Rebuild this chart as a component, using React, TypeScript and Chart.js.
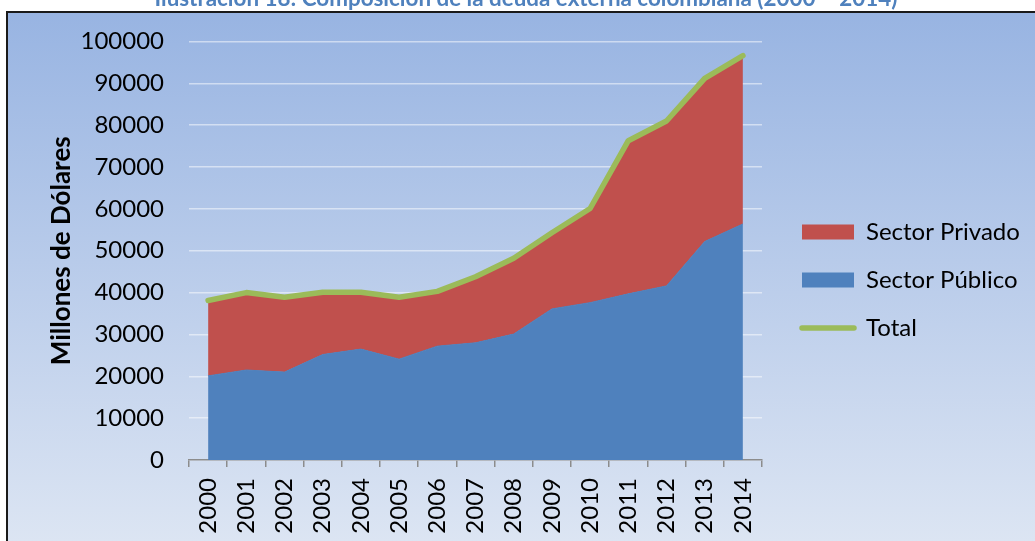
import React, { useEffect, useRef } from 'react';
import { Chart, registerables } from 'chart.js';

Chart.register(...registerables);

const chartTitle = 'Ilustración 18: Composición de la deuda externa colombiana (2000 – 2014)';
const yAxisTitle = 'Millones de Dólares';
const years = ['2000', '2001', '2002', '2003', '2004', '2005', '2006', '2007', '2008', '2009', '2010', '2011', '2012', '2013', '2014'];
const sectorPublico = [20100, 21500, 21000, 25200, 26500, 24100, 27200, 28000, 30100, 36100, 37600, 39700, 41600, 52200, 56400];
const sectorPrivado = [18000, 18500, 17900, 14900, 13600, 14800, 13100, 15800, 18100, 18200, 22500, 36600, 39400, 39000, 40200];
const total = [38100, 40000, 38900, 40100, 40100, 38900, 40300, 43800, 48200, 54300, 60100, 76300, 81000, 91200, 96600];
const yMin = 0;
const yMax = 100000;
const yStep = 10000;
const seriesLabels = ['Sector Público', 'Sector Privado', 'Total'];
const legendRank = [1, 0, 2];

const BLUE = '#4F81BD';
const RED = '#C0504D';
const GREEN = '#9BBB59';
const FONT = 'Lato';
const W = 1035;
const H = 541;
const PLOT_RIGHT = 762;
const LEGEND_GAP = 16;
const LEGEND_SIZE = 24;
const LEGEND_PAD = 24;
const LEGEND_BOX = 52;
const LEGEND_TITLE_H = 58.5;

const framePlugin = {
  id: 'frame',
  beforeDraw(chart: any) {
    const { ctx, width, height } = chart;
    ctx.save();
    ctx.fillStyle = '#ffffff';
    ctx.fillRect(0, 0, width, height);
    const g = ctx.createLinearGradient(0, 13, 0, height);
    g.addColorStop(0, '#98B4E2');
    g.addColorStop(1, '#DCE5F3');
    ctx.fillStyle = g;
    ctx.fillRect(8, 13, width, height);
    ctx.strokeStyle = '#1a1a1a';
    ctx.lineWidth = 2;
    ctx.strokeRect(7, 12, width + 20, height + 20);
    ctx.font = `bold 20px ${FONT}`;
    const w = ctx.measureText(chartTitle).width;
    const size = (20 * 743) / w;
    ctx.font = `bold ${size}px ${FONT}`;
    ctx.fillStyle = '#4F81BD';
    ctx.textAlign = 'center';
    ctx.textBaseline = 'alphabetic';
    ctx.fillText(chartTitle, 526, 5.5);
    ctx.restore();
  },
};

export default function App() {
  const ref = useRef<HTMLCanvasElement>(null);
  useEffect(() => {
    const tickFont = { family: FONT, size: 24 };
    const mctx = document.createElement('canvas').getContext('2d') as CanvasRenderingContext2D;
    mctx.font = `${LEGEND_SIZE}px ${FONT}`;
    const textW = Math.max(...seriesLabels.map((t) => mctx.measureText(t).width));
    const legendW = LEGEND_PAD + LEGEND_BOX + LEGEND_SIZE / 2 + textW + 10;
    const padRight = W - PLOT_RIGHT - LEGEND_GAP - legendW;

    const chart = new Chart(ref.current as HTMLCanvasElement, {
      type: 'line',
      data: {
        labels: years,
        datasets: [
          {
            label: seriesLabels[0],
            data: sectorPublico,
            backgroundColor: BLUE,
            borderColor: BLUE,
            borderWidth: 1,
            fill: 'origin',
            pointRadius: 0,
            tension: 0,
            stack: 'deuda',
            order: 1,
          } as any,
          {
            label: seriesLabels[1],
            data: sectorPrivado,
            backgroundColor: RED,
            borderColor: RED,
            borderWidth: 1,
            fill: '-1',
            pointRadius: 0,
            tension: 0,
            stack: 'deuda',
            order: 1,
          } as any,
          {
            label: seriesLabels[2],
            data: total,
            borderColor: GREEN,
            backgroundColor: GREEN,
            borderWidth: 5.5,
            borderJoinStyle: 'round',
            borderCapStyle: 'round',
            fill: false,
            pointRadius: 0,
            tension: 0,
            stack: 'total',
            order: 0,
          } as any,
        ],
      },
      options: {
        animation: false,
        responsive: false,
        maintainAspectRatio: false,
        devicePixelRatio: 1,
        layout: { padding: { top: 41.5, bottom: 3, left: 0, right: padRight } },
        plugins: {
          tooltip: { enabled: false },
          legend: {
            position: 'right',
            align: 'center',
            fullSize: false,
            maxWidth: 600,
            title: {
              display: true,
              text: '',
              font: { size: 10, lineHeight: 1 },
              padding: { top: (LEGEND_TITLE_H - 10) / 2, bottom: (LEGEND_TITLE_H - 10) / 2 },
            },
            labels: {
              usePointStyle: true,
              pointStyleWidth: LEGEND_BOX,
              boxHeight: 15,
              padding: LEGEND_PAD,
              color: '#000',
              font: { family: FONT, size: LEGEND_SIZE },
              generateLabels: (c: any) =>
                c.data.datasets.map((ds: any, i: number) => ({
                  text: ds.label,
                  datasetIndex: i,
                  hidden: false,
                  fontColor: '#000',
                  fillStyle: i === 2 ? 'rgba(0,0,0,0)' : ds.backgroundColor,
                  strokeStyle: i === 2 ? GREEN : ds.backgroundColor,
                  lineWidth: i === 2 ? 5.5 : 0,
                  lineCap: 'round',
                  pointStyle: i === 2 ? 'line' : 'rect',
                })),
              sort: (a: any, b: any) => legendRank[a.datasetIndex] - legendRank[b.datasetIndex],
            },
          },
        },
        scales: {
          x: {
            offset: true,
            grid: {
              offset: true,
              drawOnChartArea: false,
              drawTicks: true,
              tickLength: 7,
              color: '#8c8c8c',
              lineWidth: 1.5,
            },
            border: { display: true, color: '#8c8c8c', width: 1.5 },
            ticks: { minRotation: 90, maxRotation: 90, padding: 11, color: '#000', font: tickFont, autoSkip: false },
            afterFit: (s: any) => {
              s.height = 78;
            },
          },
          y: {
            stacked: true,
            min: yMin,
            max: yMax,
            ticks: {
              stepSize: yStep,
              padding: 25,
              color: '#000',
              font: tickFont,
              callback: (v: any) => String(v),
            },
            grid: { color: 'rgba(255,255,255,0.5)', lineWidth: 1.5, drawTicks: false },
            border: { display: false },
            title: {
              display: true,
              text: yAxisTitle,
              color: '#000',
              font: { family: FONT, size: 26, weight: 'bold' },
              padding: { top: 46.4, bottom: 0 },
            },
            afterFit: (s: any) => {
              s.width = 189;
            },
          },
          yR: {
            position: 'right',
            display: true,
            grid: { display: false },
            ticks: { display: false },
            border: { display: false },
            afterFit: (s: any) => {
              s.width = LEGEND_GAP;
            },
          },
        },
      } as any,
      plugins: [framePlugin],
    });
    return () => chart.destroy();
  }, []);
  return (
    <div style={{ position: 'fixed', left: 0, top: 0, width: W, height: H }}>
      <canvas ref={ref} width={W} height={H} style={{ display: 'block', width: W, height: H }} />
    </div>
  );
}
